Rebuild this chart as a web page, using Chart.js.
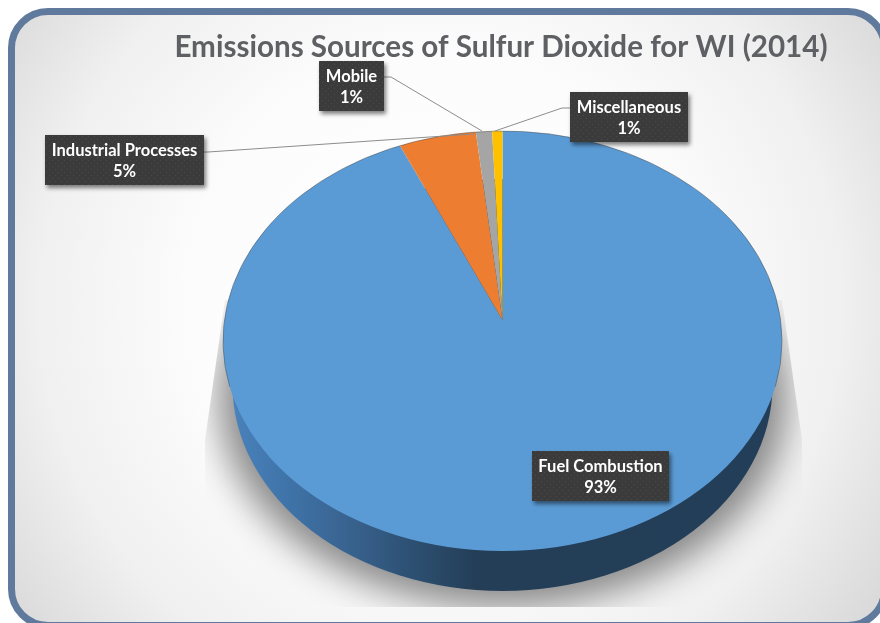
<!DOCTYPE html>
<html>
<head>
<meta charset="utf-8">
<style>
  html, body { margin: 0; padding: 0; background: #fff; overflow: hidden; width: 880px; height: 623px; }
  #stage { position: absolute; left: 0; top: 0; width: 880px; height: 623px; overflow: hidden; }
  #panel {
    position: absolute; left: 8px; top: 8px; width: 880px; height: 621px; box-sizing: border-box;
    border: 7px solid #5f7a9d; border-radius: 40px;
    background: radial-gradient(circle 560px at 425px 290px, #fff 0%, #fcfcfc 45%, #f0f0f0 72%, #d4d4d4 100%);
  }
  #sourcesChart { position: absolute; left: 0; top: 0; }
</style>
</head>
<body>
<div id="stage">
<div id="panel"></div>
<canvas id="sourcesChart" width="880" height="623"></canvas>
</div>
<script src="https://cdn.jsdelivr.net/npm/chart.js@4"></script>
<script>
const chartTitle = 'Emissions Sources of Sulfur Dioxide for WI (2014)';
const categories = ['Fuel Combustion', 'Industrial Processes', 'Mobile', 'Miscellaneous'];
const sharePercent = [93.0, 5.2, 1.1, 0.7];
const sliceColors = ['#5b9bd5', '#ed7d31', '#a5a5a5', '#ffc000'];

// label box and leader line for each category, same order as above
const labelBoxes = [
    { x: 532, y: 451, w: 137, h: 50, leader: null },
    { x: 45, y: 135, w: 159, h: 50, leader: [[204, 152], [208, 152], [474, 134]] },
    { x: 319, y: 61, w: 65, h: 50, leader: [[384, 77], [391, 77], [482, 131]] },
    { x: 570, y: 92, w: 118, h: 50, leader: [[570, 108], [562, 108], [495, 131]] }
];

// the pie is tilted: top face, side wall and the point the slices meet
const topFace = { x: 502.5, y: 341, rx: 279.5, ry: 210 };
const bottomFace = { x: 502.5, y: 385, rx: 270, ry: 206 };
const apex = { x: 502.5, y: 320, squash: 0.8 };

function ellipsePath(ctx, e) {
    ctx.beginPath();
    ctx.ellipse(e.x, e.y, e.rx, e.ry, 0, 0, Math.PI * 2);
}

function drawShadow(ctx) {
    ctx.save();
    ctx.beginPath();
    ctx.moveTo(225, 300);
    ctx.lineTo(205, 440);
    ctx.lineTo(205, 607);
    ctx.lineTo(802, 607);
    ctx.lineTo(802, 440);
    ctx.lineTo(782, 300);
    ctx.closePath();
    ctx.clip();
    ctx.shadowColor = 'rgba(0,0,0,0.46)';
    ctx.shadowBlur = 36;
    ctx.shadowOffsetX = 2000;
    ctx.fillStyle = '#000';
    ctx.beginPath();
    ctx.ellipse(502.5 - 2000, 398, 284, 209, 0, 0, Math.PI * 2);
    ctx.fill();
    ctx.restore();
}

function drawSideWall(ctx) {
    const grad = ctx.createLinearGradient(232, 0, 772, 0);
    grad.addColorStop(0, '#4a82bb');
    grad.addColorStop(0.1, '#3f74a9');
    grad.addColorStop(0.2, '#3a6593');
    grad.addColorStop(0.32, '#2e5275');
    grad.addColorStop(0.45, '#243e57');
    grad.addColorStop(1, '#233e58');
    ctx.fillStyle = grad;
    ellipsePath(ctx, bottomFace);
    ctx.fill();
}

function dotPattern(ctx) {
    const tile = document.createElement('canvas');
    tile.width = 6;
    tile.height = 6;
    const t = tile.getContext('2d');
    t.fillStyle = '#3b3b3b';
    t.fillRect(0, 0, 6, 6);
    t.fillStyle = '#4a4a4a';
    t.fillRect(1, 1, 1, 1);
    t.fillRect(4, 4, 1, 1);
    return ctx.createPattern(tile, 'repeat');
}

const tiltedPie = {
    id: 'tiltedPie',
    beforeDatasetsDraw(chart) {
        const ctx = chart.ctx;
        const arc = chart.getDatasetMeta(0).data[0];
        drawShadow(ctx);
        drawSideWall(ctx);
        ctx.save();
        ellipsePath(ctx, topFace);
        ctx.clip();
        ctx.translate(apex.x, apex.y);
        ctx.scale(1, apex.squash);
        ctx.translate(-arc.x, -arc.y);
    },
    afterDatasetsDraw(chart) {
        const ctx = chart.ctx;
        ctx.restore();
        ctx.strokeStyle = 'rgba(70,70,70,0.45)';
        ctx.lineWidth = 1;
        ctx.beginPath();
        ctx.ellipse(topFace.x, topFace.y, topFace.rx, topFace.ry, 0, Math.PI * 0.93, Math.PI * 2.07);
        ctx.stroke();
    }
};

const sliceLabels = {
    id: 'sliceLabels',
    afterDraw(chart) {
        const ctx = chart.ctx;
        const total = sharePercent.reduce((a, b) => a + b, 0);
        const pattern = dotPattern(ctx);
        ctx.save();
        categories.forEach((name, i) => {
            const box = labelBoxes[i];
            if (box.leader) {
                ctx.strokeStyle = '#8c8c8c';
                ctx.lineWidth = 1;
                ctx.beginPath();
                box.leader.forEach((p, k) => k ? ctx.lineTo(p[0], p[1]) : ctx.moveTo(p[0], p[1]));
                ctx.stroke();
            }
            ctx.save();
            ctx.shadowColor = 'rgba(0,0,0,0.5)';
            ctx.shadowBlur = 4;
            ctx.shadowOffsetX = 2;
            ctx.shadowOffsetY = 3;
            ctx.fillStyle = pattern;
            ctx.fillRect(box.x, box.y, box.w, box.h);
            ctx.restore();
            ctx.fillStyle = '#fff';
            ctx.font = 'bold 16.5px Lato';
            ctx.textAlign = 'center';
            ctx.textBaseline = 'middle';
            const cx = box.x + box.w / 2;
            ctx.fillText(name, cx, box.y + 15.5);
            ctx.fillText(Math.round(sharePercent[i] / total * 100) + '%', cx, box.y + 37);
        });
        ctx.restore();
    }
};

new Chart(document.getElementById('sourcesChart'), {
    type: 'pie',
    data: {
        labels: categories,
        datasets: [{
            data: sharePercent,
            backgroundColor: sliceColors,
            borderWidth: 0,
            clip: false
        }]
    },
    options: {
        responsive: false,
        animation: false,
        radius: 320,
        layout: { padding: { left: 122 } },
        plugins: {
            legend: { display: false },
            tooltip: { enabled: false },
            title: {
                display: true,
                text: chartTitle,
                fullSize: false,
                color: '#5f6064',
                font: { family: 'Lato', size: 29.6, weight: 'bold' },
                padding: { top: 30, bottom: 0 }
            }
        }
    },
    plugins: [tiltedPie, sliceLabels]
});
</script>
</body>
</html>
